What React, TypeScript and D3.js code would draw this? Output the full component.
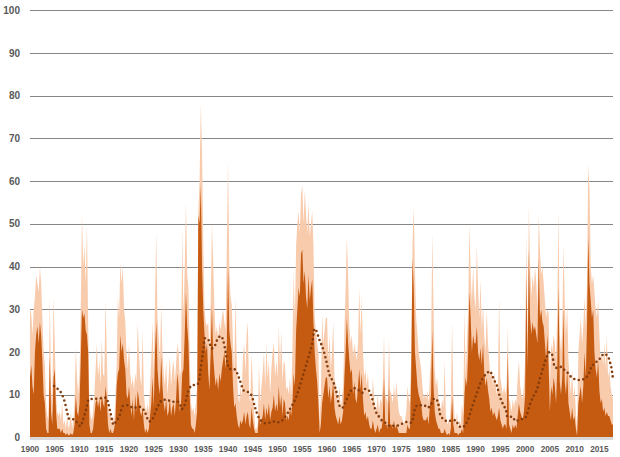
import React from 'react';
import * as d3 from 'd3';

// quarterly readings, one row per year starting 1900
const startYear = 1900;
const perYear = 4;

const lightSeries: number[][] = [
  [30, 29, 24, 30], [33, 38, 36, 34], [40, 36, 28, 20], [17, 8, 5, 4], [33, 12, 7, 33], // 1900
  [22, 10, 6, 5], [6, 4, 8, 3], [4, 2, 5, 2], [3, 6, 2, 4], [8, 21, 14, 10], // 1905
  [15, 30, 52, 40], [45, 36, 50, 27], [8, 5, 4, 6], [10, 16, 22, 14], [18, 12, 23, 15], // 1910
  [14, 32, 20, 8], [5, 6, 3, 5], [4, 9, 17, 33], [28, 41, 36, 40], [30, 27, 20, 16], // 1915
  [22, 15, 12, 14], [11, 15, 13, 27], [20, 14, 12, 25], [10, 7, 6, 8], [6, 12, 18, 27], // 1920
  [14, 32, 48, 28], [23, 18, 31, 20], [15, 12, 18, 10], [14, 19, 12, 16], [18, 13, 17, 22], // 1925
  [20, 14, 16, 49], [28, 40, 55, 38], [35, 20, 8, 6], [7, 5, 8, 12], [53, 60, 78, 67], // 1930
  [45, 30, 27, 26], [27, 20, 32, 50], [41, 30, 24, 26], [23, 27, 25, 28], [30, 27, 25, 45], // 1935
  [65, 40, 33, 31], [22, 15, 33, 18], [10, 8, 12, 9], [19, 22, 15, 24], [27, 10, 8, 20], // 1940
  [12, 6, 2, 2], [3, 17, 8, 12], [15, 20, 12, 22], [14, 18, 10, 16], [20, 22, 14, 18], // 1945
  [14, 26, 16, 25], [13, 18, 17, 11], [12, 10, 14, 9], [20, 39, 28, 45], [50, 53, 48, 57], // 1950
  [59, 50, 58, 52], [48, 55, 47, 50], [53, 45, 28, 25], [22, 20, 4, 10], [29, 22, 25, 28], // 1955
  [28, 18, 24, 16], [20, 27, 14, 12], [10, 8, 12, 7], [9, 12, 25, 35], [47, 38, 26, 22], // 1960
  [24, 19, 22, 20], [18, 22, 35, 24], [33, 20, 14, 16], [12, 15, 10, 9], [8, 14, 9, 6], // 1965
  [7, 10, 6, 9], [8, 12, 24, 10], [9, 8, 23, 11], [10, 8, 12, 9], [13, 9, 6, 5], // 1970
  [5, 4, 3, 4], [6, 12, 9, 8], [20, 45, 54, 39], [28, 24, 20, 18], [16, 12, 9, 10], // 1975
  [9, 11, 8, 14], [20, 48, 30, 16], [12, 14, 9, 8], [6, 9, 7, 18], [5, 3, 4, 3], // 1980
  [8, 27, 10, 5], [3, 6, 2, 4], [3, 8, 5, 30], [14, 22, 30, 50], [38, 32, 40, 33], // 1985
  [30, 45, 35, 28], [37, 25, 31, 24], [20, 30, 22, 18], [14, 16, 12, 15], [13, 10, 12, 33], // 1990
  [14, 12, 10, 12], [10, 12, 26, 9], [8, 6, 9, 7], [9, 8, 14, 18], [12, 10, 9, 12], // 1995
  [18, 48, 20, 54], [40, 33, 38, 35], [40, 36, 30, 52], [44, 38, 40, 36], [32, 28, 30, 29], // 2000
  [12, 22, 20, 24], [22, 18, 30, 53], [24, 20, 26, 45], [32, 24, 31, 18], [14, 10, 16, 9], // 2005
  [12, 6, 1, 20], [24, 28, 22, 26], [33, 26, 36, 64], [58, 40, 36, 38], [34, 30, 28, 32], // 2010
  [24, 18, 20, 17], [22, 16, 24, 14], [16, 12, 10, 9], // 2015
];

const darkSeries: number[][] = [
  [14, 17, 12, 10], [20, 24, 26, 22], [27, 24, 18, 10], [8, 2, 1, 1], [19, 6, 3, 14], // 1900
  [16, 6, 2, 2], [2, 1, 2, 1], [1, 0.5, 1, 0.5], [0.5, 1, 0.5, 1], [3, 10, 6, 5], // 1905
  [8, 18, 30, 28], [29, 25, 24, 20], [3, 1, 1, 2], [5, 8, 9, 7], [9, 6, 10, 8], // 1910
  [7, 12, 9, 3], [1, 2, 1, 1], [2, 4, 12, 15], [16, 24, 20, 22], [18, 16, 10, 9], // 1915
  [12, 8, 5, 9], [4, 10, 6, 11], [9, 6, 5, 7], [3, 1, 2, 1], [2, 5, 8, 14], // 1920
  [7, 20, 27, 16], [12, 10, 19, 12], [8, 6, 9, 5], [6, 9, 5, 7], [8, 5, 9, 15], // 1925
  [12, 6, 8, 15], [16, 24, 34, 26], [22, 10, 3, 2], [2, 1, 3, 6], [52, 50, 59, 40], // 1930
  [30, 24, 20, 22], [15, 11, 20, 31], [19, 15, 12, 14], [11, 15, 13, 16], [18, 20, 16, 22], // 1935
  [40, 25, 22, 20], [12, 7, 8, 5], [3, 2, 4, 3], [4, 6, 3, 5], [6, 3, 2, 7], // 1940
  [4, 2, 1, 1], [1, 6, 3, 4], [5, 8, 4, 7], [5, 8, 4, 6], [7, 10, 6, 8], // 1945
  [6, 12, 7, 10], [5, 9, 8, 4], [5, 4, 7, 5], [8, 15, 12, 25], [30, 35, 33, 43], // 1950
  [44, 36, 39, 33], [30, 38, 32, 35], [37, 27, 20, 16], [13, 8, 1, 3], [8, 10, 12, 14], // 1955
  [14, 9, 12, 8], [10, 13, 7, 5], [4, 3, 5, 3], [4, 6, 14, 20], [28, 22, 18, 15], // 1960
  [16, 10, 13, 9], [8, 12, 16, 11], [15, 9, 5, 6], [4, 5, 3, 2], [2, 4, 2, 1], // 1965
  [2, 3, 1, 2], [2, 4, 14, 3], [3, 2, 12, 3], [3, 2, 4, 2], [3, 2, 1, 1], // 1970
  [1, 1, 1, 1], [1, 3, 2, 2], [15, 42, 35, 20], [16, 12, 10, 9], [8, 5, 4, 4], // 1975
  [4, 5, 3, 7], [10, 25, 12, 6], [4, 3, 2, 2], [1, 1, 1, 2], [1, 0.5, 1, 0.5], // 1980
  [2, 9.5, 3, 1], [1, 1, 0.5, 1], [1, 2, 1, 10], [14, 12, 20, 34], [28, 20, 24, 22], // 1985
  [22, 26, 20, 18], [21, 17, 22, 15], [12, 14, 11, 9], [6, 7, 5, 6], [5, 4, 5, 7], // 1990
  [4, 3, 2, 3], [3, 2, 20, 3], [2, 1, 3, 2], [3, 2, 5, 8], [6, 5, 4, 6], // 1995
  [10, 38, 16, 44], [28, 24, 27, 25], [26, 24, 22, 42], [28, 30, 27, 26], [22, 18, 24, 17], // 2000
  [6, 12, 10, 14], [12, 8, 16, 35], [13, 10, 14, 30], [13, 10, 16, 8], [6, 4, 7, 4], // 2005
  [5, 2, 0.3, 8], [10, 12, 8, 12], [20, 14, 26, 47], [36, 32, 28, 30], [20, 16, 14, 18], // 2010
  [11, 8, 9, 6], [7, 5, 6, 5], [5, 4, 3, 3], // 2015
];

// moving average, read as (decimal year, value)
const avgYears = [
  1904.85, 1905.7, 1906.4, 1907.1, 1907.6, 1907.9, 1908.9, 1909.6, 1910.2, 1910.6, 1911.3, 1911.9,
  1913.0, 1914.7, 1915.4, 1915.8, 1916.3, 1916.9, 1917.4, 1918.0, 1918.7, 1919.5, 1920.2, 1920.9,
  1921.8, 1922.6, 1923.2, 1924.1, 1924.8, 1925.6, 1926.1, 1926.8, 1927.7, 1928.6, 1929.6, 1930.3,
  1930.6, 1931.2, 1931.8, 1932.1, 1932.9, 1933.8, 1934.2, 1934.5, 1935.0, 1935.3, 1936.0, 1936.7,
  1937.4, 1937.8, 1938.5, 1939.0, 1939.5, 1939.9, 1940.3, 1941.1, 1941.6, 1942.4, 1943.2, 1944.0,
  1944.8, 1945.4, 1946.2, 1946.9, 1947.5, 1948.3, 1949.2, 1950.0, 1950.8, 1951.5, 1952.5, 1953.5,
  1954.3, 1955.0, 1955.7, 1956.4, 1957.0, 1957.2, 1957.4, 1957.8, 1958.4, 1959.3, 1959.9, 1960.4,
  1961.3, 1962.0, 1962.4, 1963.1, 1963.5, 1964.0, 1964.8, 1965.7, 1966.5, 1967.1, 1967.7, 1968.5,
  1969.0, 1969.6, 1970.0, 1970.6, 1971.1, 1971.9, 1972.7, 1973.5, 1974.5, 1975.5, 1976.2, 1977.1,
  1977.4, 1977.9, 1978.6, 1979.6, 1980.3, 1981.0, 1981.6, 1982.0, 1982.5, 1982.9, 1983.5, 1984.4,
  1985.2, 1986.1, 1986.5, 1987.3, 1988.0, 1988.5, 1989.2, 1989.9, 1990.6, 1991.0, 1991.6, 1992.3,
  1992.9, 1993.3, 1993.8, 1994.3, 1994.9, 1995.3, 1995.8, 1996.2, 1996.4, 1997.5, 1998.0, 1999.0,
  1999.9, 2000.3, 2001.0, 2001.8, 2002.4, 2003.0, 2003.7, 2004.4, 2004.8, 2005.4, 2005.9, 2006.5,
  2007.3, 2007.9, 2008.7, 2009.4, 2010.1, 2011.0, 2011.8, 2012.7, 2013.1, 2013.5, 2014.0, 2014.7,
  2015.4, 2015.8, 2016.7, 2017.1, 2017.4, 2017.7,
];
const avgValues = [
  12.0, 11.2, 10.2, 7.9, 5.4, 4.3, 4.2, 3.3, 2.6, 3.7, 6.4, 8.9,
  9.0, 9.2, 9.3, 8.0, 5.5, 2.9, 3.8, 4.8, 7.3, 7.5, 7.3, 6.8,
  7.2, 6.9, 5.9, 3.7, 4.4, 6.7, 7.8, 8.8, 8.8, 8.3, 8.4, 7.8,
  6.6, 7.5, 10.0, 11.3, 12.2, 12.4, 13.6, 16.4, 20.5, 23.2, 22.9, 20.8,
  21.6, 22.8, 23.7, 22.8, 20.0, 17.3, 16.0, 16.0, 15.6, 13.3, 10.9, 10.6,
  9.7, 7.2, 4.6, 3.7, 3.3, 3.4, 3.7, 3.5, 3.8, 4.7, 6.6, 8.7,
  11.3, 14.0, 16.7, 19.4, 22.0, 23.4, 25.4, 25.0, 23.0, 20.3, 17.6, 15.0,
  12.8, 10.1, 7.6, 6.9, 7.7, 9.0, 10.9, 11.5, 10.9, 10.4, 11.3, 10.9,
  9.5, 7.0, 5.6, 4.7, 3.9, 3.3, 2.6, 2.7, 2.8, 3.4, 3.6, 3.4,
  4.8, 7.2, 7.5, 7.5, 6.9, 7.7, 9.0, 9.0, 7.6, 5.1, 4.3, 3.7,
  4.0, 4.0, 2.8, 2.3, 3.1, 4.2, 6.8, 9.1, 11.5, 12.8, 14.1, 15.0,
  15.5, 14.6, 13.3, 12.1, 9.5, 8.3, 7.2, 6.0, 4.8, 4.8, 3.8, 4.2,
  4.4, 5.2, 7.8, 9.9, 11.2, 13.8, 16.5, 18.9, 19.9, 19.5, 16.8, 16.2,
  16.5, 15.8, 15.0, 14.0, 13.6, 13.4, 13.6, 14.6, 15.5, 16.9, 17.1, 18.1,
  18.7, 19.5, 19.1, 17.7, 16.5, 14.1,
];

const yTicks = [0, 10, 20, 30, 40, 50, 60, 70, 80, 90, 100];
const xTickLabels = [
  '1900', '1905', '1910', '1915', '1920', '1925', '1930', '1935', '1940', '1945', '1950', '1955',
  '1960', '1965', '1970', '1975', '1980', '1985', '1990', '1995', '2000', '2005', '2010', '2015',
];

const W = 620;
const H = 457;
const plot = { left: 30, right: 613, top: 10.3, bottom: 437.3 };

const toPoints = (rows: number[][]): [number, number][] =>
  rows.flatMap((row, i) => row.map((v, q) => [startYear + i + q / perYear, v] as [number, number]));

const App: React.FC = () => {
  const lightPts = toPoints(lightSeries);
  const darkPts = toPoints(darkSeries);
  const lastX = lightPts[lightPts.length - 1][0];

  const x = d3.scaleLinear().domain([startYear, lastX]).range([plot.left, plot.right]);
  const y = d3.scaleLinear().domain([0, 100]).range([plot.bottom, plot.top]);

  const area = d3.area<[number, number]>()
    .x(d => x(d[0]))
    .y0(y(0))
    .y1(d => y(d[1]));

  const avgLine = d3.line<number>()
    .x((_, i) => x(avgYears[i]))
    .y(d => y(d))
    .curve(d3.curveMonotoneX);

  const font = '"Liberation Sans", Arial, sans-serif';

  return (
    <svg width={W} height={H} style={{ position: 'absolute', left: 0, top: 0, background: '#fff' }}>
      {yTicks.filter(t => t > 0).map(t => (
        <line key={t} x1={plot.left} x2={plot.right} y1={Math.round(y(t)) + 0.5} y2={Math.round(y(t)) + 0.5}
          stroke="#868686" strokeWidth={1} />
      ))}
      <path d={area(lightPts) || ''} fill="#f8cbad" />
      <path d={area(darkPts) || ''} fill="#c55a11" />
      <rect x={plot.left} y={plot.bottom - 0.3} width={plot.right - plot.left} height={3} fill="#d9d9d9" />
      <path d={avgLine(avgValues) || ''} fill="none" stroke="#843c0c" strokeWidth={2.6}
        strokeLinecap="round" strokeDasharray="0 4.6" />
      {yTicks.map(t => (
        <text key={t} x={20} y={y(t) + 3.6} textAnchor="end" fontFamily={font} fontSize={10}
          fontWeight="bold" fill="#595959">{t}</text>
      ))}
      {xTickLabels.map(l => (
        <text key={l} x={x(+l)} y={452} textAnchor="middle" fontFamily={font} fontSize={8.3}
          fontWeight="bold" fill="#595959">{l}</text>
      ))}
    </svg>
  );
};

export default App;
